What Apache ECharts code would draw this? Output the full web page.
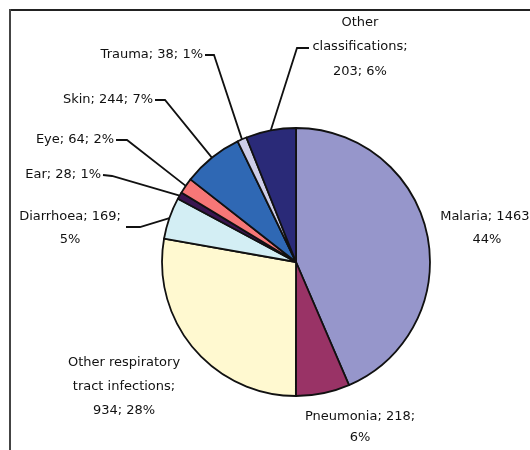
<!DOCTYPE html>
<html>
<head>
<meta charset="utf-8">
<script src="https://cdn.jsdelivr.net/npm/echarts@6/dist/echarts.min.js"></script>
<style>
html,body{margin:0;padding:0;background:#fff;}
#chart{width:530px;height:450px;}
</style>
</head>
<body>
<div id="chart"></div>
<script>
// ---- data ----
const categories = ['Malaria', 'Pneumonia', 'Other respiratory tract infections', 'Diarrhoea', 'Ear', 'Eye', 'Skin', 'Trauma', 'Other classifications'];
const values = [1463, 218, 934, 169, 28, 64, 244, 38, 203];

// ---- styles ----
const colors = ['#9696cb', '#993366', '#fff9d0', '#d3eef4', '#3a1550', '#f77777', '#2f68b4', '#cdcde8', '#2a2a78'];
const nameWrap = {
  'Other respiratory tract infections': 'Other respiratory\ntract infections',
  'Other classifications': 'Other\nclassifications'
};
// label placement: anchor x, y, alignment, line height, elbow/end of leader line
const labelPlace = [
  {x: 487, y: 228, align: 'center', lh: 23},
  {x: 360, y: 427, align: 'center', lh: 21},
  {x: 124, y: 387, align: 'center', lh: 24},
  {x: 70,  y: 228, align: 'center', lh: 23, line: [[140, 227], [126, 227]]},
  {x: 101, y: 175, align: 'right', lh: 16, line: [[112, 176], [103, 175]]},
  {x: 114, y: 140, align: 'right', lh: 16, line: [[127, 140], [116, 140]]},
  {x: 153, y: 100, align: 'right', lh: 16, line: [[165, 100], [155, 100]]},
  {x: 203, y: 55,  align: 'right', lh: 16, line: [[214, 55], [205, 55]]},
  {x: 360, y: 47,  align: 'center', lh: 24.5, line: [[297, 48], [309, 48]]}
];

const chart = echarts.init(document.getElementById('chart'), null, {renderer: 'canvas'});

const data = categories.map((c, i) => ({
  name: c,
  value: values[i],
  itemStyle: {color: colors[i]},
  label: {lineHeight: labelPlace[i].lh, align: labelPlace[i].align},
  labelLine: {show: !!labelPlace[i].line}
}));

const option = {
  animation: false,
  backgroundColor: '#ffffff',
  graphic: [
    {type: 'line', shape: {x1: 10, y1: 10, x2: 530, y2: 10}, style: {stroke: '#222', lineWidth: 2}},
    {type: 'line', shape: {x1: 10, y1: 9, x2: 10, y2: 450}, style: {stroke: '#444', lineWidth: 2}}
  ],
  series: [{
    type: 'pie',
    center: [296, 262],
    radius: 134,
    startAngle: 90,
    clockwise: true,
    avoidLabelOverlap: false,
    percentPrecision: 0,
    data: data,
    itemStyle: {borderColor: '#111', borderWidth: 1.8},
    label: {
      show: true,
      position: 'outside',
      color: '#111',
      fontFamily: 'DejaVu Sans',
      fontSize: 13,
      formatter: function (p) {
        const wrapped = nameWrap[p.name];
        if (wrapped) return wrapped + ';\n' + p.value + '; ' + p.percent + '%';
        if (labelPlace[p.dataIndex].lh > 20) return p.name + '; ' + p.value + ';\n' + p.percent + '%';
        return p.name + '; ' + p.value + '; ' + p.percent + '%';
      }
    },
    labelLine: {
      show: true,
      lineStyle: {color: '#111', width: 1.8}
    },
    labelLayout: function (params) {
      const lp = labelPlace[params.dataIndex];
      const res = {x: lp.x, y: lp.y, align: lp.align, verticalAlign: 'middle'};
      if (lp.line && params.labelLinePoints) {
        const start = params.labelLinePoints[0];
        res.labelLinePoints = [start, lp.line[0], lp.line[1]];
      }
      return res;
    }
  }]
};
chart.setOption(option);
</script>
</body>
</html>
